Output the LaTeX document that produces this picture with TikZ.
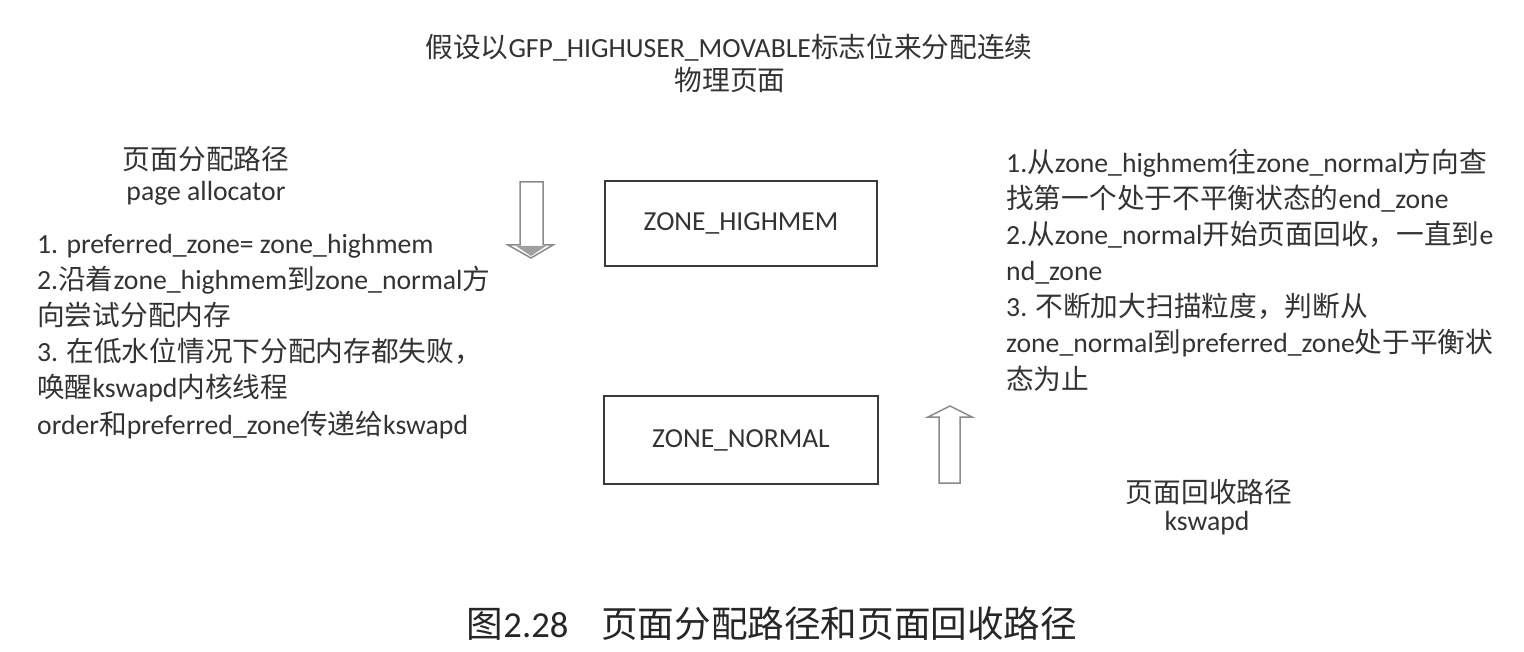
\documentclass[tikz,border=0pt]{standalone}
\usepackage{fontspec}
\setmainfont{Carlito}
\newfontfamily\cjk{Noto Sans CJK SC}
\newcommand\zh[1]{{\cjk #1}}
\definecolor{txt}{HTML}{333333}
\definecolor{cap}{HTML}{262626}
\definecolor{arrowgray}{HTML}{8A8A8A}
\definecolor{boxline}{HTML}{3A3A3A}
\tikzset{
  line/.style={anchor=base west, inner sep=0pt, text=txt, font=\fontsize{27.7}{36}\selectfont},
  cline/.style={anchor=base, inner sep=0pt, text=txt, font=\fontsize{27.7}{36}\selectfont},
  zonebox/.style={draw=boxline, line width=2pt, inner sep=0pt, text=txt, font=\fontsize{27.5}{36}\selectfont},
  blockarrow/.style={draw=arrowgray, line width=1.5pt, fill=white, line join=miter}
}
\begin{document}
\begin{tikzpicture}[x=1pt,y=-1pt]
\useasboundingbox[fill=white] (0,0) rectangle (1524,652);
% title
\node[cline] (t1) at (729,58) {\zh{假设以}GFP\_HIGHUSER\_MOVABLE\zh{标志位来分配连续}};
\node[cline] (t2) at (730,91) {\zh{物理页面}};
% left heading
\node[cline] (lh1) at (206,170) {\zh{页面分配路径}};
\node[cline] (lh2) at (206,201) {page allocator};
% left lines
\node[line] (l1) at (37,254) {1. preferred\_zone= zone\_highmem};
\node[line] (l2) at (37,290) {2.\zh{沿着}zone\_highmem\zh{到}zone\_normal\zh{方}};
\node[line] (l3) at (37,326) {\zh{向尝试分配内存}};
\node[line] (l4) at (37,362) {3. \zh{在低水位情况下分配内存都失败，}};
\node[line] (l5) at (37,398) {\zh{唤醒}kswapd\zh{内核线程}};
\node[line] (l6) at (37,434) {order\zh{和}preferred\_zone\zh{传递给}kswapd};
% boxes
\node[zonebox, minimum width=272pt, minimum height=85pt] (hm) at (741,223.5) {ZONE\_HIGHMEM};
\node[zonebox, minimum width=274pt, minimum height=88pt] (nm) at (741,440) {ZONE\_NORMAL};
% down arrow
\draw[blockarrow] (520,182) -- (543,182) -- (543,245) -- (553,245) -- (531,258) -- (508,245) -- (520,245) -- cycle;
\fill[arrowgray!70!black, opacity=0.6] (516,246) -- (546,246) -- (531,256) -- cycle;
% up arrow
\draw[blockarrow] (939,483) -- (960,483) -- (960,417) -- (972,417) -- (950,406) -- (928,417) -- (939,417) -- cycle;
% right lines
\node[line] (r1) at (1006,173) {1.\zh{从}zone\_highmem\zh{往}zone\_normal\zh{方向查}};
\node[line] (r2) at (1006,209) {\zh{找第一个处于不平衡状态的}end\_zone};
\node[line] (r3) at (1006,245) {2.\zh{从}zone\_normal\zh{开始页面回收，一直到}e};
\node[line] (r4) at (1006,281) {nd\_zone};
\node[line] (r5) at (1006,317) {3. \zh{不断加大扫描粒度，判断从}};
\node[line] (r6) at (1006,353) {zone\_normal\zh{到}preferred\_zone\zh{处于平衡状}};
\node[line] (r7) at (1006,389) {\zh{态为止}};
% right heading
\node[cline] (rh1) at (1209,502) {\zh{页面回收路径}};
\node[cline] (rh2) at (1207,530) {kswapd};
% caption
\node[anchor=base, inner sep=0pt, text=cap, font=\fontsize{36.6}{40}\selectfont] (cap) at (772,637) {\zh{图}2.28\hspace{0.9em}\zh{页面分配路径和页面回收路径}};
\end{tikzpicture}
\end{document}
